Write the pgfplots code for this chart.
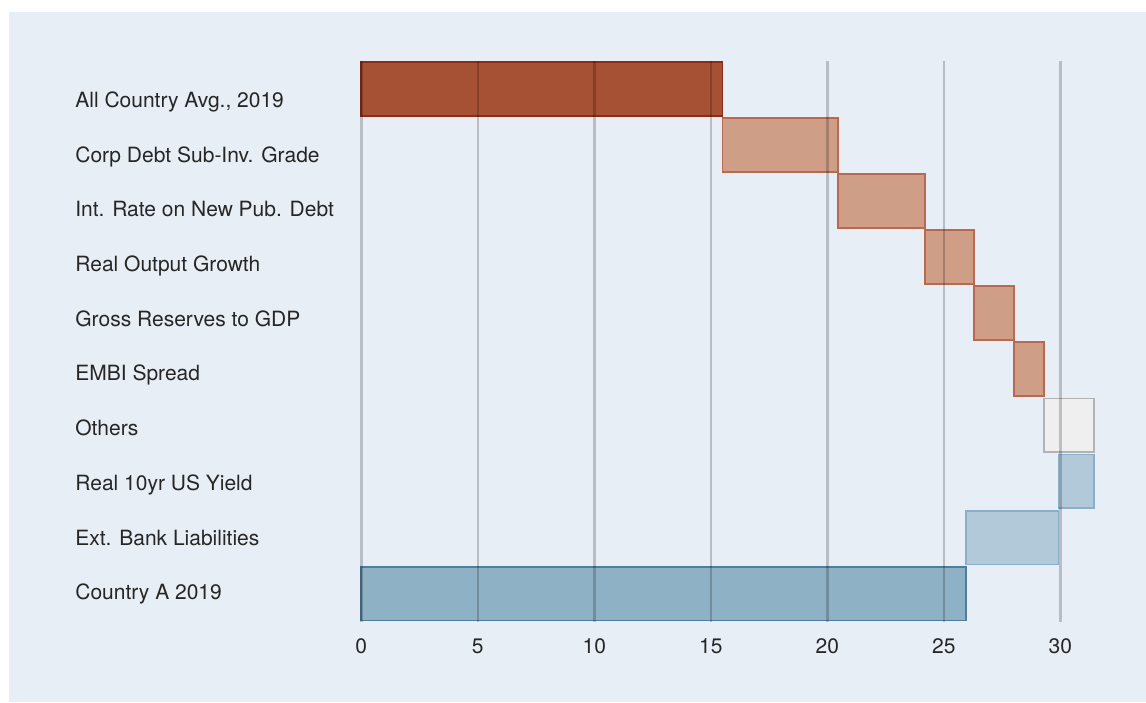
\documentclass[border=0pt]{standalone}
\usepackage{fontspec}
\setmainfont{TeX Gyre Heros}
\usepackage{pgfplots}
\pgfplotsset{compat=1.18}

\definecolor{panel}{RGB}{231,238,245}
\definecolor{txt}{RGB}{38,38,38}
\definecolor{redfill}{RGB}{166,81,52}
\definecolor{rededge}{RGB}{142,43,28}
\definecolor{ltredfill}{RGB}{207,158,135}
\definecolor{ltrededge}{RGB}{185,105,79}
\definecolor{othfill}{RGB}{239,239,239}
\definecolor{othedge}{RGB}{179,179,179}
\definecolor{ltbluefill}{RGB}{178,201,217}
\definecolor{ltblueedge}{RGB}{138,175,200}
\definecolor{bluefill}{RGB}{143,177,197}
\definecolor{blueedge}{RGB}{78,126,154}

\begin{document}
\begin{tikzpicture}
\useasboundingbox (0,0) rectangle (573pt,351pt);
\fill[white] (0,0) rectangle (573pt,351pt);
\fill[panel] (4.5pt,0) rectangle (573pt,345pt);

\begin{axis}[
  at={(180.65pt,40.15pt)}, anchor=south west,
  scale only axis, width=372.8pt, height=280.5pt,
  xmin=0, xmax=32, ymin=-0.5, ymax=9.5, y dir=reverse,
  axis line style={draw=none},
  major tick length=0pt,
  xtick={0,5,...,30},
  ytick={0.334,1.309,2.284,3.259,4.234,5.209,6.184,7.159,8.134,9.109},
  yticklabels={{All Country Avg., 2019},{Corp Debt Sub-Inv. Grade},{Int. Rate on New Pub. Debt},{Real Output Growth},{Gross Reserves to GDP},{EMBI Spread},{Others},{Real 10yr US Yield},{Ext. Bank Liabilities},{Country A 2019}},
  xmajorgrids, ymajorgrids=false,
  grid style={black, opacity=0.2, line width=1.2pt},
  axis on top,
  tick label style={font=\fontsize{10.5}{12}\selectfont, text=txt},
  /pgf/number format/assume math mode=true,
  yticklabel style={anchor=base west, inner sep=0pt, xshift=-143.15pt},
  xticklabel style={anchor=north, inner sep=0pt, yshift=-8.2pt},
  clip=false,
]
% waterfall bars: (start,row) -> (end,row), half height 0.48
\addplot[draw=rededge, fill=redfill, line width=0.9pt] coordinates {(0,-0.48) (15.5,-0.48) (15.5,0.48) (0,0.48)} --cycle;
\addplot[draw=ltrededge, fill=ltredfill, line width=0.9pt] coordinates {(15.5,0.52) (20.45,0.52) (20.45,1.48) (15.5,1.48)} --cycle;
\addplot[draw=ltrededge, fill=ltredfill, line width=0.9pt] coordinates {(20.45,1.52) (24.18,1.52) (24.18,2.48) (20.45,2.48)} --cycle;
\addplot[draw=ltrededge, fill=ltredfill, line width=0.9pt] coordinates {(24.18,2.52) (26.28,2.52) (26.28,3.48) (24.18,3.48)} --cycle;
\addplot[draw=ltrededge, fill=ltredfill, line width=0.9pt] coordinates {(26.28,3.52) (28.0,3.52) (28.0,4.48) (26.28,4.48)} --cycle;
\addplot[draw=ltrededge, fill=ltredfill, line width=0.9pt] coordinates {(28.0,4.52) (29.3,4.52) (29.3,5.48) (28.0,5.48)} --cycle;
\addplot[draw=othedge, fill=othfill, line width=0.9pt] coordinates {(29.3,5.52) (31.45,5.52) (31.45,6.48) (29.3,6.48)} --cycle;
\addplot[draw=ltblueedge, fill=ltbluefill, line width=0.9pt] coordinates {(29.92,6.52) (31.45,6.52) (31.45,7.48) (29.92,7.48)} --cycle;
\addplot[draw=ltblueedge, fill=ltbluefill, line width=0.9pt] coordinates {(25.95,7.52) (29.92,7.52) (29.92,8.48) (25.95,8.48)} --cycle;
\addplot[draw=blueedge, fill=bluefill, line width=0.9pt] coordinates {(0,8.52) (25.95,8.52) (25.95,9.48) (0,9.48)} --cycle;
\end{axis}
\end{tikzpicture}
\end{document}
